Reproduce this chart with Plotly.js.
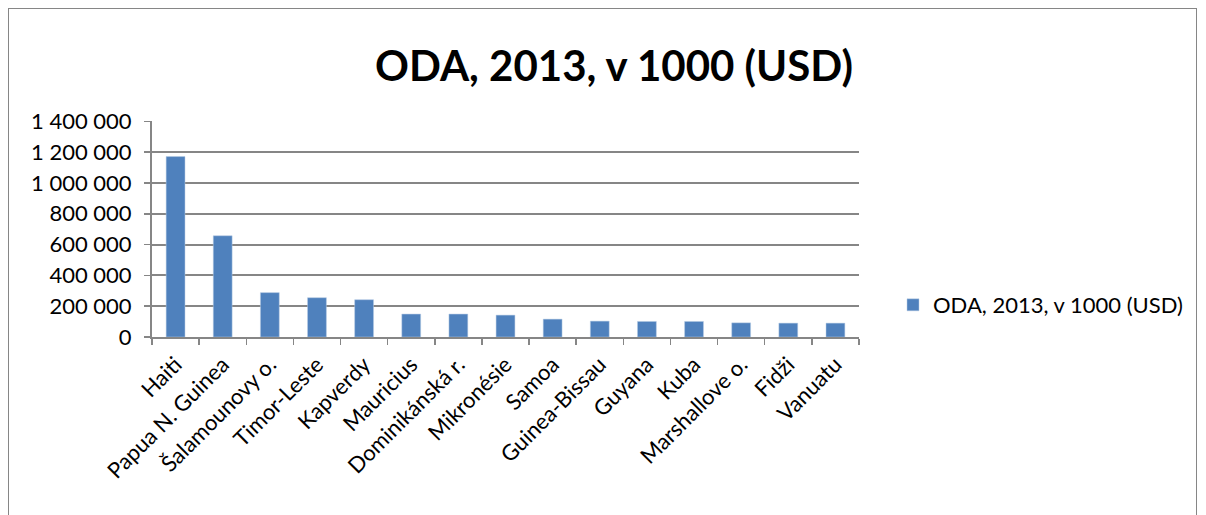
<!DOCTYPE html>
<html><head><meta charset="utf-8">
<script src="https://cdn.plot.ly/plotly-3.0.1.min.js"></script>
<style>
html,body{margin:0;padding:0;background:#fff;}
#frame{position:absolute;left:8px;top:8px;width:1189px;height:520px;border:1px solid #868686;box-sizing:border-box;}
#chart{position:absolute;left:0;top:0;width:1206px;height:515px;}
</style></head>
<body>
<div id="frame"></div>
<div id="chart"></div>
<script>
const categories = ["Haiti","Papua N. Guinea","Šalamounovy o.","Timor-Leste","Kapverdy","Mauricius","Dominikánská r.","Mikronésie","Samoa","Guinea-Bissau","Guyana","Kuba","Marshallove o.","Fidži","Vanuatu"];
const values = [1171000,657000,288000,255000,242000,149000,149000,142000,116000,103000,101000,101000,92000,90000,90000];
const seriesName = "ODA, 2013, v 1000 (USD)";
const yTicks = [0,200000,400000,600000,800000,1000000,1200000,1400000];
const yTickLabels = ["0","200 000","400 000","600 000","800 000","1 000 000","1 200 000","1 400 000"];

const font = "Lato, 'Open Sans', sans-serif";
Plotly.newPlot('chart',[{
  type:'bar', x:categories, y:values, name:seriesName,
  marker:{color:'#4f81bd', line:{color:'#b9cde5', width:0.5}},
  showlegend:true
}],{
  width:1206, height:515,
  paper_bgcolor:'rgba(0,0,0,0)', plot_bgcolor:'rgba(0,0,0,0)',
  margin:{l:152,r:347,t:121,b:178},
  bargap:0.6,
  title:{text:'<b>'+seriesName+'</b>', font:{family:font,size:42,color:'#000'}, x:614/1206, xanchor:'center', y:1-66/515, yanchor:'middle', xref:'container', yref:'container'},
  xaxis:{tickangle:-45, tickfont:{family:font,size:22,color:'#000'}, showline:true, linecolor:'#868686', linewidth:2,
         ticks:'outside', ticklen:6, tickcolor:'#868686', tickwidth:1.5, tickson:'boundaries', showgrid:false, automargin:false,
         ticklabelstandoff:4},
  yaxis:{range:[0,1402000], tickvals:yTicks, ticktext:yTickLabels, tickfont:{family:font,size:22,color:'#000'},
         showline:true, linecolor:'#868686', linewidth:2, ticks:'outside', ticklen:6, tickcolor:'#868686', tickwidth:1.5,
         showgrid:true, gridcolor:'#868686', gridwidth:2, zeroline:false, automargin:false, ticklabelstandoff:8},
  legend:{x:893/1206, xanchor:'left', y:1-305/515, yanchor:'middle', xref:'container', yref:'container',
          font:{family:font,size:22,color:'#000'}, itemwidth:30}
},{displayModeBar:false, staticPlot:true});
</script>
</body></html>
